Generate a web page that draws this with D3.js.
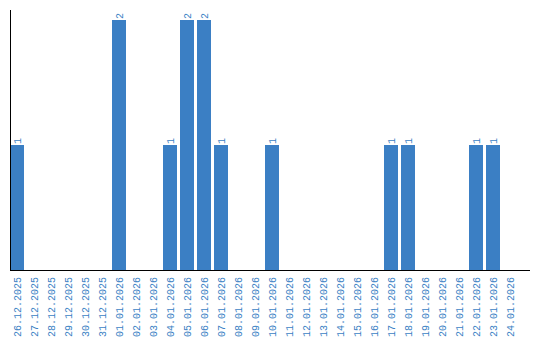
<!DOCTYPE html>
<html><head><meta charset="utf-8">
<script src="https://cdn.jsdelivr.net/npm/d3@7"></script>
<style>body{margin:0;background:#fff}svg{display:block}</style>
</head><body>
<svg id="c" width="540" height="340"></svg>
<script>
const dates = ["26.12.2025","27.12.2025","28.12.2025","29.12.2025","30.12.2025","31.12.2025","01.01.2026","02.01.2026","03.01.2026","04.01.2026","05.01.2026","06.01.2026","07.01.2026","08.01.2026","09.01.2026","10.01.2026","11.01.2026","12.01.2026","13.01.2026","14.01.2026","15.01.2026","16.01.2026","17.01.2026","18.01.2026","19.01.2026","20.01.2026","21.01.2026","22.01.2026","23.01.2026","24.01.2026"];
const counts = [1,0,0,0,0,0,2,0,0,1,2,2,1,0,0,1,0,0,0,0,0,0,1,1,0,0,0,1,1,0];

const svg = d3.select("#c");
const color = "#3b7fc4";
const font = "Liberation Mono, DejaVu Sans Mono, monospace";
const x = d3.scaleBand().domain(dates).range([10, 520]).paddingInner(3/17).paddingOuter(3/34).align(0);
const y = d3.scaleLinear().domain([0, 2.08]).range([270, 10]);

const data = dates.map((d,i)=>({d, v:counts[i]}));

svg.append("g").selectAll("rect").data(data.filter(d=>d.v>0)).join("rect")
  .attr("x", d=>x(d.d)).attr("width", x.bandwidth())
  .attr("y", d=>y(d.v)).attr("height", d=>y(0)-y(d.v))
  .attr("fill", color);

svg.append("g").selectAll("text").data(data.filter(d=>d.v>0)).join("text")
  .attr("transform", d=>`translate(${x(d.d)+x.bandwidth()/2+3.5},${y(d.v)-1}) rotate(-90)`)
  .attr("text-anchor","start")
  .attr("font-family", font)
  .attr("font-size", 10)
  .attr("fill", color)
  .text(d=>d.v);

// axes lines
svg.append("line").attr("x1",10.5).attr("x2",10.5).attr("y1",10).attr("y2",270).attr("stroke","#000");
svg.append("line").attr("x1",10).attr("x2",530).attr("y1",270.5).attr("y2",270.5).attr("stroke","#000");

// x labels
svg.append("g").selectAll("text").data(dates).join("text")
  .attr("transform", d=>`translate(${x(d)+x.bandwidth()/2+3.5},277) rotate(-90)`)
  .attr("text-anchor","end")
  .attr("font-family", font)
  .attr("font-size", 10)
  .attr("fill", color)
  .text(d=>d);
</script>
</body></html>
